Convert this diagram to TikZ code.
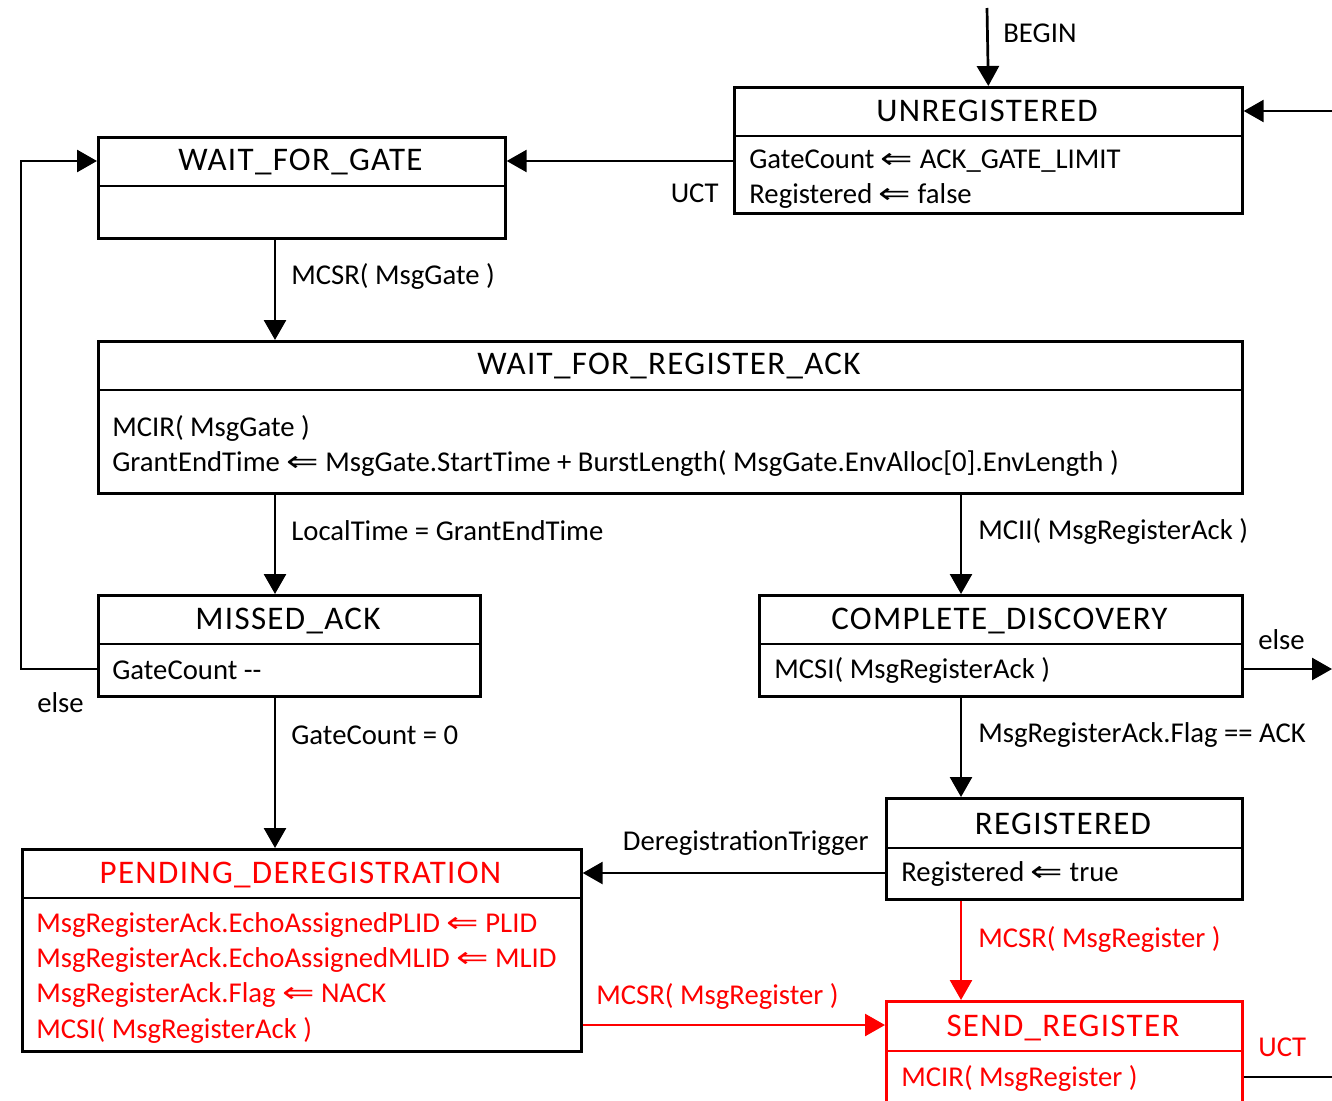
\documentclass[tikz,border=0pt]{standalone}
\usepackage{fontspec}
\setmainfont{Carlito}
\newfontfamily\titlefont[LetterSpace=4]{Carlito}
\newfontfamily\symfnt{DejaVu Sans}
\usetikzlibrary{arrows.meta,calc}
\definecolor{sred}{RGB}{255,0,0}
\newcommand{\lar}{\scalebox{1.35}[1]{\symfnt ⇐}}
\begin{document}
\begin{tikzpicture}[x=1pt,y=-1pt,line width=2.7pt,
  arr/.style={-{Triangle[length=20pt,width=22pt]}},
  lbl/.style={font=\fontsize{28.7}{33}\selectfont,inner sep=0pt},
  ttl/.style={font=\titlefont\fontsize{33}{36}\selectfont,inner sep=0pt},
  sbox/.style={draw,inner sep=0pt,anchor=north west}]
\useasboundingbox (0,0) rectangle (1332,1100);
\clip (0,0) rectangle (1332,1100);
% boxes
\node[sbox,minimum width=508pt,minimum height=126pt] (unreg) at (733,86) {};
\draw (unreg.west |- 0,136) -- (unreg.east |- 0,136);
\node[ttl] (unregT) at (987,111) {UNREGISTERED};
\node[lbl,anchor=west] (unregB1) at (748,161) {GateCount \lar{} ACK\_GATE\_LIMIT};
\node[lbl,anchor=west] (unregB2) at (748,196) {Registered \lar{} false};

\node[sbox,minimum width=407pt,minimum height=101pt] (wfg) at (97,136) {};
\draw (wfg.west |- 0,186) -- (wfg.east |- 0,186);
\node[ttl] (wfgT) at (300.5,162) {WAIT\_FOR\_GATE};

\node[sbox,minimum width=1144pt,minimum height=152pt] (wfra) at (97,340) {};
\draw (wfra.west |- 0,390) -- (wfra.east |- 0,390);
\node[ttl] (wfraT) at (669,366) {WAIT\_FOR\_REGISTER\_ACK};
\node[lbl,anchor=west] (wfraB1) at (111,428) {MCIR( MsgGate )};
\node[lbl,anchor=west] (wfraB2) at (111,463) {GrantEndTime \lar{} MsgGate.StartTime + BurstLength( MsgGate.EnvAlloc[0].EnvLength )};

\node[sbox,minimum width=382pt,minimum height=101pt] (miss) at (97,594) {};
\draw (miss.west |- 0,644) -- (miss.east |- 0,644);
\node[ttl] (missT) at (288,621) {MISSED\_ACK};
\node[lbl,anchor=west] (missB) at (111,670) {GateCount -{}-};

\node[sbox,minimum width=483pt,minimum height=101pt] (comp) at (758,594) {};
\draw (comp.west |- 0,644) -- (comp.east |- 0,644);
\node[ttl] (compT) at (999.5,621) {COMPLETE\_DISCOVERY};
\node[lbl,anchor=west] (compB) at (773,670) {MCSI( MsgRegisterAck )};

\node[sbox,minimum width=356pt,minimum height=101pt] (reg) at (885,797) {};
\draw (reg.west |- 0,848) -- (reg.east |- 0,848);
\node[ttl] (regT) at (1063,824) {REGISTERED};
\node[lbl,anchor=west] (regB) at (900,874) {Registered \lar{} true};

\node[sbox,minimum width=559pt,minimum height=202pt] (pend) at (21,848) {};
\draw (pend.west |- 0,898) -- (pend.east |- 0,898);
\node[ttl,text=sred] (pendT) at (300.5,875) {PENDING\_DEREGISTRATION};
\node[lbl,anchor=west,text=sred] (pendB1) at (35,925) {MsgRegisterAck.EchoAssignedPLID \lar{} PLID};
\node[lbl,anchor=west,text=sred] (pendB2) at (35,960) {MsgRegisterAck.EchoAssignedMLID \lar{} MLID};
\node[lbl,anchor=west,text=sred] (pendB3) at (35,995) {MsgRegisterAck.Flag \lar{} NACK};
\node[lbl,anchor=west,text=sred] (pendB4) at (35,1030) {MCSI( MsgRegisterAck )};

\node[sbox,draw=sred,minimum width=356pt,minimum height=120pt] (send) at (885,1000) {};
\draw[sred] (send.west |- 0,1051) -- (send.east |- 0,1051);
\node[ttl,text=sred] (sendT) at (1063,1028) {SEND\_REGISTER};
\node[lbl,anchor=west,text=sred] (sendB) at (900,1078) {MCIR( MsgRegister )};

% connectors
\coordinate (begin) at (987,8);
\draw[arr] (begin) -- (unreg.north);
\node[lbl,anchor=west] (beginL) at (1002,33) {BEGIN};

\coordinate (inR) at (1332,111);
\draw[arr] (inR) -- (inR -| unreg.east);

\draw[arr] (unreg.west |- 0,161) -- (wfg.east |- 0,161);
\node[lbl,anchor=east] (uct1) at (720,193) {UCT};

\draw[arr] (wfg.south -| 275,0) -- (wfra.north -| 275,0);
\node[lbl,anchor=west] (l1) at (290,276) {MCSR( MsgGate )};

\draw[arr] (wfra.south -| 275,0) -- (miss.north -| 275,0);
\node[lbl,anchor=west] (l2) at (290,531) {LocalTime = GrantEndTime};

\draw[arr] (wfra.south -| 961,0) -- (comp.north -| 961,0);
\node[lbl,anchor=west] (l3) at (977,531) {MCII( MsgRegisterAck )};

\draw[arr] (miss.west |- 0,669) -| (21,161) -- (wfg.west |- 0,161);
\node[lbl,anchor=west] (else1) at (36,703) {else};

\coordinate (outR) at (1332,669);
\draw[arr] (comp.east |- outR) -- (outR);
\node[lbl,anchor=west] (else2) at (1257,640) {else};

\draw[arr] (comp.south -| 961,0) -- (reg.north -| 961,0);
\node[lbl,anchor=west] (l4) at (977,735) {MsgRegisterAck.Flag == ACK};

\draw[arr] (miss.south -| 275,0) -- (pend.north -| 275,0);
\node[lbl,anchor=west] (l5) at (290,735) {GateCount = 0};

\draw[arr] (reg.west |- 0,873) -- (pend.east |- 0,873);
\node[lbl,anchor=east] (l6) at (870,843) {DeregistrationTrigger};

\draw[arr,sred] (reg.south -| 961,0) -- (send.north -| 961,0);
\node[lbl,anchor=west,text=sred] (l7) at (977,939) {MCSR( MsgRegister )};

\draw[arr,sred] (pend.east |- 0,1025) -- (send.west |- 0,1025);
\node[lbl,anchor=west,text=sred] (l8) at (595,996) {MCSR( MsgRegister )};

\coordinate (outR2) at (1332,1077);
\draw (send.east |- outR2) -- (outR2);
\node[lbl,anchor=west,text=sred] (uct2) at (1257,1047) {UCT};
\end{tikzpicture}
\end{document}
